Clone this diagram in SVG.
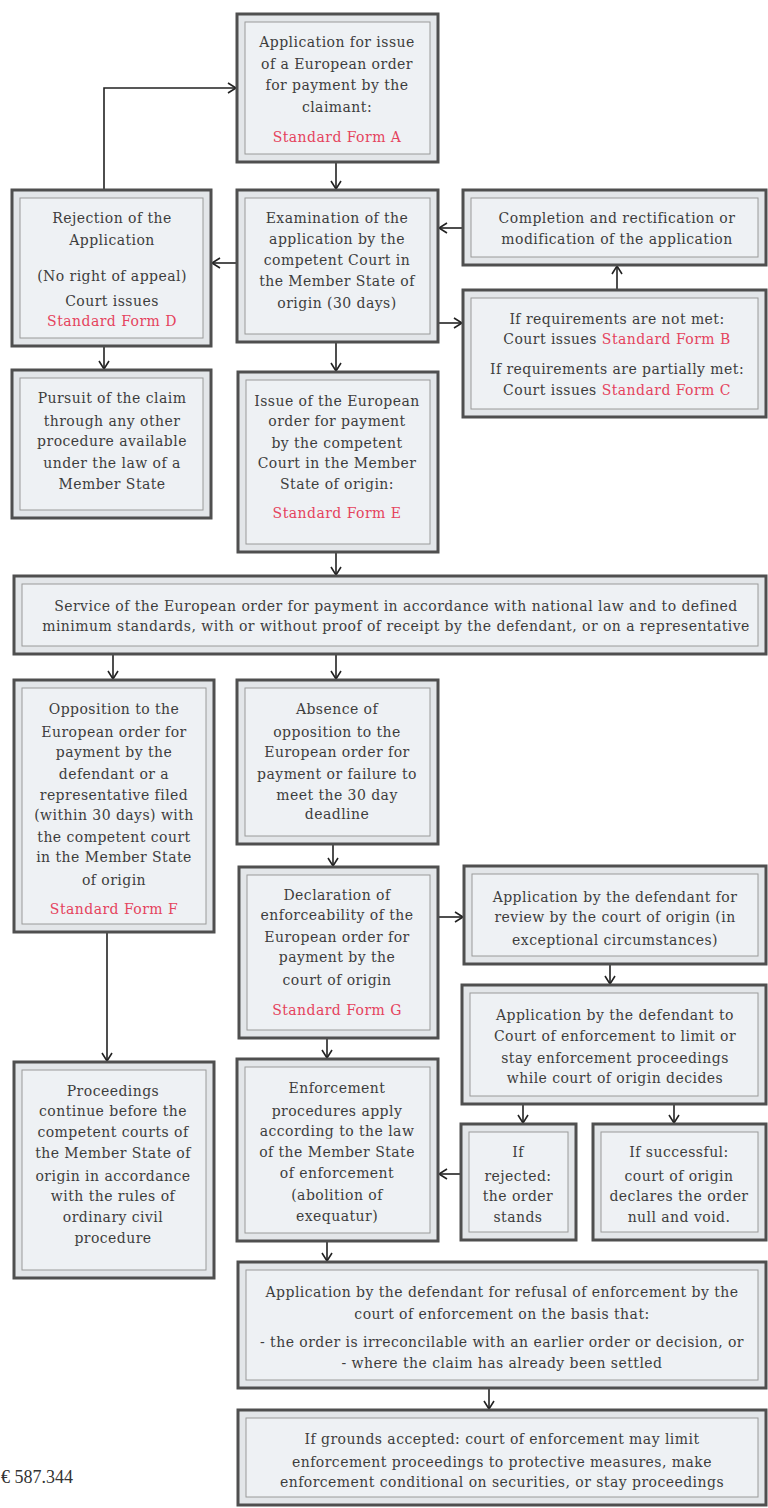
<svg xmlns="http://www.w3.org/2000/svg" width="768" height="1508" viewBox="0 0 768 1508">
<defs>
<style>
.o{fill:#e3e6e9;stroke:#4f4f4f;stroke-width:3}
.i{fill:#eef1f4;stroke:#9a9a9a;stroke-width:1}
text{font-family:"DejaVu Serif","Liberation Serif",serif;font-size:14px;letter-spacing:0.45px;fill:#3d3d3d;text-anchor:middle}
.r{fill:#e5435d}
.c{fill:none;stroke:#222;stroke-width:1.6;marker-end:url(#ah)}
</style>
<marker id="ah" markerWidth="12" markerHeight="12" refX="9" refY="6" orient="auto" markerUnits="userSpaceOnUse">
<path d="M1,1 L9,6 L1,11" fill="none" stroke="#222" stroke-width="1.6"/>
</marker>
</defs>
<rect width="768" height="1508" fill="#ffffff"/>

<g id="connectors">
<path class="c" d="M336,163 V189"/>
<path class="c" d="M104,189 V88 H236"/>
<path class="c" d="M236,263 H212"/>
<path class="c" d="M463,228 H439"/>
<path class="c" d="M439,323 H462"/>
<path class="c" d="M617,290 V266"/>
<path class="c" d="M104,347 V369"/>
<path class="c" d="M336,343 V371"/>
<path class="c" d="M336,553 V575"/>
<path class="c" d="M113,655 V679"/>
<path class="c" d="M336,655 V679"/>
<path class="c" d="M333,845 V866"/>
<path class="c" d="M439,917 H463"/>
<path class="c" d="M610,965 V984"/>
<path class="c" d="M107,933 V1061"/>
<path class="c" d="M327,1039 V1058"/>
<path class="c" d="M523,1105 V1123"/>
<path class="c" d="M674,1105 V1123"/>
<path class="c" d="M461,1174 H439"/>
<path class="c" d="M327,1242 V1261"/>
<path class="c" d="M489,1389 V1409"/>
</g>

<g id="n-application">
<rect class="o" x="237" y="14" width="201" height="148"/>
<rect class="i" x="245" y="22" width="185" height="132"/>
<text x="337" y="47">Application for issue</text>
<text x="337" y="69">of a European order</text>
<text x="337" y="90">for payment by the</text>
<text x="337" y="112">claimant:</text>
<text x="337" y="142" class="r">Standard Form A</text>
</g>

<g id="n-rejection">
<rect class="o" x="12" y="190" width="199" height="156"/>
<rect class="i" x="20" y="198" width="183" height="140"/>
<text x="112" y="223">Rejection of the</text>
<text x="112" y="245">Application</text>
<text x="112" y="281">(No right of appeal)</text>
<text x="112" y="306">Court issues</text>
<text x="112" y="326" class="r">Standard Form D</text>
</g>

<g id="n-examination">
<rect class="o" x="237" y="190" width="201" height="152"/>
<rect class="i" x="245" y="198" width="185" height="136"/>
<text x="337" y="223">Examination of the</text>
<text x="337" y="244">application by the</text>
<text x="337" y="265">competent Court in</text>
<text x="337" y="286">the Member State of</text>
<text x="337" y="308">origin (30 days)</text>
</g>

<g id="n-completion">
<rect class="o" x="463" y="190" width="303" height="75"/>
<rect class="i" x="471" y="198" width="287" height="59"/>
<text x="617" y="223">Completion and rectification or</text>
<text x="617" y="244">modification of the application</text>
</g>

<g id="n-requirements">
<rect class="o" x="463" y="290" width="303" height="127"/>
<rect class="i" x="471" y="298" width="287" height="111"/>
<text x="617" y="324">If requirements are not met:</text>
<text x="617" y="344">Court issues <tspan class="r">Standard Form B</tspan></text>
<text x="617" y="374">If requirements are partially met:</text>
<text x="617" y="395">Court issues <tspan class="r">Standard Form C</tspan></text>
</g>

<g id="n-pursuit">
<rect class="o" x="12" y="370" width="199" height="148"/>
<rect class="i" x="20" y="378" width="183" height="132"/>
<text x="112" y="403">Pursuit of the claim</text>
<text x="112" y="426">through any other</text>
<text x="112" y="446">procedure available</text>
<text x="112" y="468">under the law of a</text>
<text x="112" y="489">Member State</text>
</g>

<g id="n-issue">
<rect class="o" x="238" y="372" width="200" height="180"/>
<rect class="i" x="246" y="380" width="184" height="164"/>
<text x="337" y="406">Issue of the European</text>
<text x="337" y="426">order for payment</text>
<text x="337" y="448">by the competent</text>
<text x="337" y="468">Court in the Member</text>
<text x="337" y="489">State of origin:</text>
<text x="337" y="518" class="r">Standard Form E</text>
</g>

<g id="n-service">
<rect class="o" x="14" y="576" width="752" height="78"/>
<rect class="i" x="22" y="584" width="736" height="62"/>
<text x="396" y="611">Service of the European order for payment in accordance with national law and to defined</text>
<text x="396" y="631">minimum standards, with or without proof of receipt by the defendant, or on a representative</text>
</g>

<g id="n-opposition">
<rect class="o" x="14" y="680" width="200" height="252"/>
<rect class="i" x="22" y="688" width="184" height="236"/>
<text x="114" y="714">Opposition to the</text>
<text x="114" y="737">European order for</text>
<text x="114" y="757">payment by the</text>
<text x="114" y="779">defendant or a</text>
<text x="114" y="800">representative filed</text>
<text x="114" y="820">(within 30 days) with</text>
<text x="114" y="842">the competent court</text>
<text x="114" y="862">in the Member State</text>
<text x="114" y="885">of origin</text>
<text x="114" y="914" class="r">Standard Form F</text>
</g>

<g id="n-absence">
<rect class="o" x="237" y="680" width="201" height="164"/>
<rect class="i" x="245" y="688" width="185" height="148"/>
<text x="337" y="714">Absence of</text>
<text x="337" y="737">opposition to the</text>
<text x="337" y="757">European order for</text>
<text x="337" y="779">payment or failure to</text>
<text x="337" y="800">meet the 30 day</text>
<text x="337" y="819">deadline</text>
</g>

<g id="n-declaration">
<rect class="o" x="239" y="867" width="199" height="171"/>
<rect class="i" x="247" y="875" width="183" height="155"/>
<text x="337" y="900">Declaration of</text>
<text x="337" y="920">enforceability of the</text>
<text x="337" y="942">European order for</text>
<text x="337" y="962">payment by the</text>
<text x="337" y="985">court of origin</text>
<text x="337" y="1015" class="r">Standard Form G</text>
</g>

<g id="n-review">
<rect class="o" x="464" y="866" width="302" height="98"/>
<rect class="i" x="472" y="874" width="286" height="82"/>
<text x="615" y="902">Application by the defendant for</text>
<text x="615" y="922">review by the court of origin (in</text>
<text x="615" y="945">exceptional circumstances)</text>
</g>

<g id="n-stay">
<rect class="o" x="462" y="985" width="304" height="119"/>
<rect class="i" x="470" y="993" width="288" height="103"/>
<text x="615" y="1020">Application by the defendant to</text>
<text x="615" y="1041">Court of enforcement to limit or</text>
<text x="615" y="1063">stay enforcement proceedings</text>
<text x="615" y="1083">while court of origin decides</text>
</g>

<g id="n-proceedings">
<rect class="o" x="14" y="1062" width="200" height="216"/>
<rect class="i" x="22" y="1070" width="184" height="200"/>
<text x="113" y="1096">Proceedings</text>
<text x="113" y="1116">continue before the</text>
<text x="113" y="1137">competent courts of</text>
<text x="113" y="1158">the Member State of</text>
<text x="113" y="1181">origin in accordance</text>
<text x="113" y="1201">with the rules of</text>
<text x="113" y="1222">ordinary civil</text>
<text x="113" y="1243">procedure</text>
</g>

<g id="n-enforcement">
<rect class="o" x="237" y="1059" width="201" height="182"/>
<rect class="i" x="245" y="1067" width="185" height="166"/>
<text x="337" y="1093">Enforcement</text>
<text x="337" y="1116">procedures apply</text>
<text x="337" y="1136">according to the law</text>
<text x="337" y="1157">of the Member State</text>
<text x="337" y="1178">of enforcement</text>
<text x="337" y="1200">(abolition of</text>
<text x="337" y="1221">exequatur)</text>
</g>

<g id="n-rejected">
<rect class="o" x="461" y="1124" width="115" height="116"/>
<rect class="i" x="469" y="1132" width="99" height="100"/>
<text x="518" y="1157">If</text>
<text x="518" y="1181">rejected:</text>
<text x="518" y="1201">the order</text>
<text x="518" y="1222">stands</text>
</g>

<g id="n-successful">
<rect class="o" x="593" y="1124" width="173" height="116"/>
<rect class="i" x="601" y="1132" width="157" height="100"/>
<text x="679" y="1157">If successful:</text>
<text x="679" y="1181">court of origin</text>
<text x="679" y="1201">declares the order</text>
<text x="679" y="1222">null and void.</text>
</g>

<g id="n-refusal">
<rect class="o" x="238" y="1262" width="528" height="126"/>
<rect class="i" x="246" y="1270" width="512" height="110"/>
<text x="502" y="1297">Application by the defendant for refusal of enforcement by the</text>
<text x="502" y="1319">court of enforcement on the basis that:</text>
<text x="502" y="1347">- the order is irreconcilable with an earlier order or decision, or</text>
<text x="502" y="1368">- where the claim has already been settled</text>
</g>

<g id="n-grounds">
<rect class="o" x="238" y="1410" width="528" height="95"/>
<rect class="i" x="246" y="1418" width="512" height="79"/>
<text x="502" y="1444">If grounds accepted: court of enforcement may limit</text>
<text x="502" y="1467">enforcement proceedings to protective measures, make</text>
<text x="502" y="1487">enforcement conditional on securities, or stay proceedings</text>
</g>

<text x="1" y="1483" style="text-anchor:start;font-family:'Liberation Serif',serif;font-size:18px;letter-spacing:0;fill:#333">€ 587.344</text>
</svg>
